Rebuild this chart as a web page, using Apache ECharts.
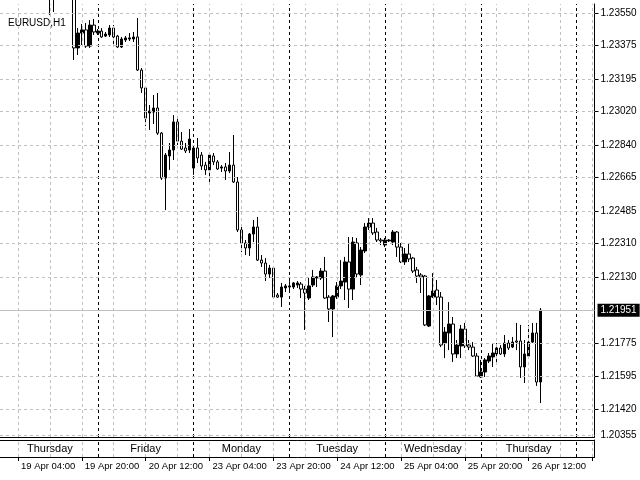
<!DOCTYPE html>
<html><head><meta charset="utf-8">
<script src="https://cdn.jsdelivr.net/npm/echarts@6/dist/echarts.min.js"></script>
<style>html,body{margin:0;padding:0;background:#fff}#c{width:640px;height:480px}</style>
</head><body><div id="c"></div>
<script>
const symbolName = 'EURUSD,H1';
const dates = ['19 Apr','20 Apr','23 Apr','24 Apr','25 Apr','26 Apr','27 Apr'];
const dayNames = ['Thursday','Friday','Monday','Tuesday','Wednesday','Thursday'];
const timeLabels = ['19 Apr 04:00','19 Apr 20:00','20 Apr 12:00','23 Apr 04:00','23 Apr 20:00','24 Apr 12:00','25 Apr 04:00','25 Apr 20:00','26 Apr 12:00'];
const priceTicks = ['1.23550','1.23375','1.23195','1.23020','1.22840','1.22665','1.22485','1.22310','1.22130','1.21775','1.21595','1.21420'];
const currentPrice = '1.21951';
const subWindowLabel = '1.20355';

const opens = [1.23740,1.23780,1.23820,1.23790,1.23850,1.23880,1.23860,1.23830,1.23800,1.23770,1.23790,1.23750,1.23700,1.23660,1.23690,1.23720,1.23700,1.23680,1.23640,1.23362,
1.23442,1.23459,1.23372,1.23485,1.23442,1.23453,1.23426,1.23432,1.23469,1.23426,1.23367,1.23405,1.23410,1.23410,1.23421,1.23243,1.23147,1.23012,1.23017,1.23039,
1.22904,1.22662,1.22781,1.22813,1.22964,1.22861,1.22824,1.22813,1.22716,1.22824,1.22786,1.22732,1.22706,1.22781,1.22749,1.22716,1.22722,1.22700,1.22732,1.22641,
1.22383,1.22313,1.22286,1.22361,1.22399,1.22221,1.22205,1.22146,1.22178,1.22033,1.22022,1.22071,1.22076,1.22076,1.22087,1.22092,1.22065,1.22017,1.22087,1.22125,
1.22125,1.22162,1.22022,1.21958,1.22022,1.22082,1.22103,1.22211,1.22065,1.22313,1.22141,1.22270,1.22399,1.22420,1.22372,1.22329,1.22302,1.22324,1.22318,1.22372,
1.22291,1.22211,1.22254,1.22232,1.22168,1.22141,1.22135,1.21866,1.22022,1.22060,1.22022,1.21775,1.21829,1.21877,1.21716,1.21759,1.21850,1.21764,1.21753,1.21705,
1.21592,1.21619,1.21678,1.21700,1.21716,1.21748,1.21716,1.21775,1.21753,1.21786,1.21786,1.21646,1.21705,1.21780,1.21829,1.21565];
const closes = [1.23780,1.23820,1.23790,1.23850,1.23880,1.23860,1.23830,1.23800,1.23770,1.23790,1.23750,1.23700,1.23660,1.23690,1.23720,1.23700,1.23680,1.23640,1.23362,1.23442,
1.23459,1.23372,1.23485,1.23448,1.23453,1.23421,1.23437,1.23469,1.23421,1.23367,1.23410,1.23416,1.23416,1.23421,1.23243,1.23147,1.22985,1.23023,1.23039,1.22904,
1.22662,1.22786,1.22813,1.22964,1.22861,1.22818,1.22808,1.22872,1.22824,1.22770,1.22727,1.22706,1.22786,1.22749,1.22711,1.22722,1.22700,1.22732,1.22641,1.22383,
1.22313,1.22286,1.22361,1.22399,1.22221,1.22205,1.22146,1.22178,1.22022,1.22022,1.22076,1.22082,1.22082,1.22098,1.22098,1.22065,1.22044,1.22082,1.22130,1.22130,
1.22162,1.22017,1.21958,1.22028,1.22082,1.22108,1.22211,1.22065,1.22318,1.22146,1.22275,1.22399,1.22420,1.22367,1.22329,1.22324,1.22329,1.22329,1.22372,1.22291,
1.22211,1.22254,1.22227,1.22162,1.22135,1.22130,1.21872,1.22028,1.22055,1.22022,1.21764,1.21834,1.21877,1.21716,1.21764,1.21850,1.21759,1.21753,1.21705,1.21597,
1.21619,1.21684,1.21705,1.21721,1.21748,1.21716,1.21775,1.21748,1.21780,1.21780,1.21646,1.21716,1.21780,1.21829,1.21565,1.21951];
const lows = [1.23720,1.23760,1.23770,1.23780,1.23830,1.23840,1.23810,1.23780,1.23740,1.23740,1.23720,1.23650,1.23539,1.23555,1.23660,1.23670,1.23650,1.23625,1.23297,1.23324,
1.23378,1.23362,1.23362,1.23432,1.23432,1.23416,1.23421,1.23421,1.23367,1.23362,1.23362,1.23394,1.23399,1.23394,1.23238,1.23120,1.22942,1.22921,1.22953,1.22894,
1.22652,1.22490,1.22706,1.22759,1.22840,1.22813,1.22797,1.22797,1.22679,1.22743,1.22706,1.22679,1.22641,1.22732,1.22706,1.22695,1.22652,1.22689,1.22636,1.22372,
1.22264,1.22248,1.22243,1.22318,1.22216,1.22184,1.22108,1.22125,1.22017,1.22017,1.21969,1.22049,1.22055,1.22065,1.22071,1.22017,1.21845,1.22006,1.22076,1.22076,
1.22114,1.22012,1.21888,1.21807,1.22012,1.22065,1.22006,1.21963,1.22006,1.22130,1.22087,1.22259,1.22383,1.22356,1.22318,1.22302,1.22291,1.22318,1.22302,1.22238,
1.22205,1.22195,1.22211,1.22151,1.22098,1.22044,1.21866,1.21861,1.22017,1.21979,1.21753,1.21694,1.21737,1.21673,1.21694,1.21694,1.21748,1.21737,1.21700,1.21592,
1.21587,1.21592,1.21667,1.21646,1.21673,1.21710,1.21700,1.21737,1.21748,1.21737,1.21587,1.21560,1.21700,1.21775,1.21544,1.21452];
const highs = [1.23800,1.23850,1.23840,1.23870,1.23920,1.23900,1.23880,1.23850,1.23820,1.23810,1.23800,1.23770,1.23730,1.23720,1.23750,1.23760,1.23730,1.23700,1.23660,1.23469,
1.23491,1.23496,1.23512,1.23518,1.23464,1.23469,1.23448,1.23485,1.23485,1.23432,1.23421,1.23426,1.23442,1.23448,1.23523,1.23254,1.23152,1.23055,1.23109,1.23120,
1.22910,1.22797,1.22851,1.23001,1.22985,1.22910,1.22851,1.22926,1.22840,1.22878,1.22802,1.22749,1.22797,1.22797,1.22759,1.22732,1.22743,1.22802,1.22894,1.22668,
1.22399,1.22329,1.22367,1.22437,1.22453,1.22248,1.22232,1.22195,1.22184,1.22044,1.22098,1.22092,1.22108,1.22103,1.22108,1.22103,1.22082,1.22130,1.22168,1.22135,
1.22178,1.22238,1.22033,1.22033,1.22103,1.22221,1.22238,1.22345,1.22345,1.22340,1.22291,1.22420,1.22447,1.22447,1.22394,1.22340,1.22340,1.22334,1.22383,1.22377,
1.22313,1.22286,1.22313,1.22238,1.22184,1.22151,1.22141,1.22033,1.22151,1.22114,1.22049,1.21861,1.21995,1.21915,1.21791,1.21872,1.21883,1.21791,1.21780,1.21721,
1.21684,1.21694,1.21721,1.21775,1.21775,1.21764,1.21818,1.21791,1.21807,1.21883,1.21872,1.21791,1.21872,1.21883,1.21883,1.21963];

// ---- layout (pixels) ----
const FONT = 'Liberation Sans, Arial, sans-serif';
const mainTop = 4, mainBottom = 437, plotLeft = -1.5, plotWidth = 596;
const slotCount = 149;
// price scale anchored on two tick labels: 1.23550 at y=13, 1.21420 at y=409
const unitPerPx = (1.23550 - 1.21420) / (409 - 13);
const yMax = 1.23550 + (13 - mainTop) * unitPerPx;
const yMin = 1.23550 - (mainBottom - 13) * unitPerPx;

const categories = [];
for (const d of dates) for (let h = 0; h < 24; h++) {
  if (categories.length < slotCount) categories.push(d + ' ' + String(h).padStart(2, '0') + ':00');
}
const candles = opens.map((o, i) => [o, closes[i], lows[i], highs[i]]);
const tickValues = priceTicks.map(Number);

const greyIdx = [], sepIdx = [];
for (let i = 0; i < slotCount; i++) {
  if (i % 8 === 4) greyIdx.push(i);
  if (i > 0 && i % 24 === 0) sepIdx.push(i);
}
const greyStyle = { color: '#c0c0c0', type: [3, 3], width: 1 };
const sepStyle = { color: '#000', type: [3, 3], width: 1 };
const vLines = greyIdx.map(i => ({ xAxis: i, lineStyle: greyStyle }))
  .concat(sepIdx.map(i => ({ xAxis: i, lineStyle: sepStyle })));
const hLines = tickValues.map(v => ({ yAxis: v, lineStyle: greyStyle }));
hLines.push({ yAxis: yMin + 2 * unitPerPx, lineStyle: greyStyle,
  label: { show: true, position: 'end', formatter: subWindowLabel, distance: 6, color: '#000', fontSize: 10, fontFamily: FONT } });
hLines.push({ yAxis: Number(currentPrice), lineStyle: { color: '#c0c0c0', type: 'solid', width: 1 },
  label: { show: true, position: 'end', formatter: currentPrice, distance: 3, color: '#fff', backgroundColor: '#000',
    padding: [2, 3, 1, 3], fontSize: 10, fontFamily: FONT } });

const chart = echarts.init(document.getElementById('c'), null, { renderer: 'canvas' });
chart.setOption({
  animation: false,
  backgroundColor: '#fff',
  title: { text: symbolName, left: 8, top: 18, padding: 0,
    textStyle: { fontSize: 10, fontWeight: 'normal', color: '#000', fontFamily: FONT } },
  grid: [
    { left: plotLeft, width: plotWidth, top: mainTop, height: mainBottom - mainTop },
    { left: plotLeft, width: plotWidth, top: 440, height: 17 }
  ],
  xAxis: [
    { type: 'category', gridIndex: 0, data: categories, boundaryGap: true,
      axisLine: { show: true, lineStyle: { color: '#000' } }, axisTick: { show: false },
      axisLabel: { show: false }, splitLine: { show: false } },
    { type: 'category', gridIndex: 1, data: categories, boundaryGap: true, position: 'bottom',
      axisLine: { show: true, lineStyle: { color: '#000' } },
      axisTick: { show: true, alignWithLabel: true, length: 4, interval: (i) => i % 16 === 4, lineStyle: { color: '#000' } },
      axisLabel: { show: true, interval: (i) => i % 16 === 4, formatter: (v, i) => timeLabels[(i - 4) / 16],
        align: 'left', padding: [0, 0, 0, 3], margin: 4, fontSize: 9.5, color: '#000', fontFamily: FONT },
      splitLine: { show: false } },
    { type: 'category', gridIndex: 1, data: categories, boundaryGap: true, position: 'top',
      axisLine: { show: true, lineStyle: { color: '#000' } }, axisTick: { show: false },
      axisLabel: { show: true, inside: true, interval: (i) => i % 24 === 12, formatter: (v, i) => dayNames[Math.floor(i / 24)],
        margin: 3, fontSize: 11, color: '#000', fontFamily: FONT },
      splitLine: { show: false } }
  ],
  yAxis: [
    { type: 'value', gridIndex: 0, position: 'right', min: yMin, max: yMax, scale: true,
      axisLine: { show: true, lineStyle: { color: '#000' } },
      axisTick: { show: true, length: 4, customValues: tickValues, lineStyle: { color: '#000' } },
      axisLabel: { show: true, customValues: tickValues, formatter: (v) => v.toFixed(5), margin: 6,
        fontSize: 10, color: '#000', fontFamily: FONT },
      splitLine: { show: false } },
    { type: 'value', gridIndex: 1, position: 'right', min: 0, max: 1,
      axisLine: { show: true, lineStyle: { color: '#000' } }, axisTick: { show: false },
      axisLabel: { show: false }, splitLine: { show: false } }
  ],
  series: [
    { type: 'line', xAxisIndex: 0, yAxisIndex: 0, data: [], z: 1, silent: true,
      markLine: { silent: true, symbol: ['none', 'none'], animation: false, precision: 8, label: { show: false },
        data: vLines.concat(hLines) } },
    { type: 'line', xAxisIndex: 1, yAxisIndex: 1, data: [], z: 1, silent: true,
      markLine: { silent: true, symbol: ['none', 'none'], animation: false, precision: 8, label: { show: false }, data: vLines } },
    { type: 'candlestick', xAxisIndex: 0, yAxisIndex: 0, data: candles, z: 3, clip: true, barWidth: 3,
      itemStyle: { color: '#000', color0: '#fff', borderColor: '#000', borderColor0: '#000', borderWidth: 1 } }
  ]
});
</script>
</body></html>
